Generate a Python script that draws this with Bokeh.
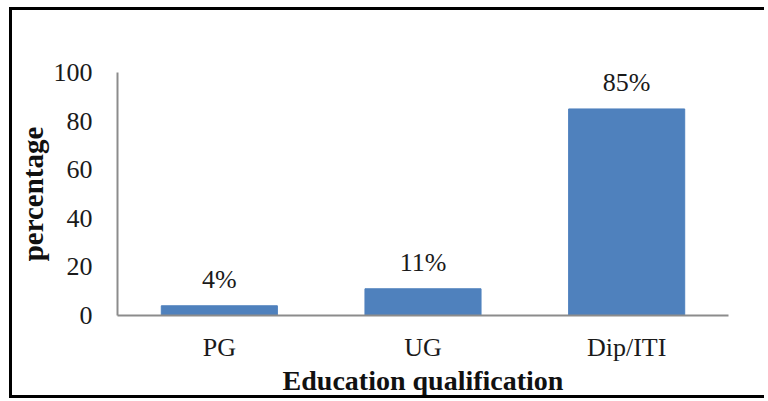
from bokeh.plotting import figure
from bokeh.models import ColumnDataSource, LabelSet, FixedTicker
from bokeh.embed import file_html
from bokeh.resources import INLINE

categories = ["PG", "UG", "Dip/ITI"]
percentages = [4, 11, 85]
labels = ["4%", "11%", "85%"]
y_ticks = [0, 20, 40, 60, 80, 100]

FONT = "Liberation Serif"

src = ColumnDataSource(data=dict(cat=categories, val=percentages, lab=labels))

p = figure(x_range=categories, y_range=(0, 100), width=755, height=391,
           output_backend="svg", toolbar_location=None,
           min_border_left=105, min_border_top=62, min_border_bottom=86,
           min_border_right=39)
p.styles = {"border-left": "3px solid black", "border-top": "3px solid black",
            "border-bottom": "3px solid black", "margin-left": "9px",
            "margin-top": "7px"}

p.vbar(x="cat", top="val", width=0.57, source=src, color="#4F81BD")

lbl = LabelSet(x="cat", y="val", text="lab", source=src, text_align="center",
               text_baseline="alphabetic", y_offset=18, text_font=FONT,
               text_font_size="26px", text_color="#1a1a1a")
p.add_layout(lbl)

p.grid.visible = False
p.outline_line_color = None

for ax in (p.xaxis, p.yaxis):
    ax.axis_line_color = "#8c8c8c"
    ax.axis_line_width = 2
    ax.major_tick_line_color = None
    ax.minor_tick_line_color = None
    ax.major_label_text_font = FONT
    ax.major_label_text_font_size = "26px"
    ax.major_label_text_color = "#1a1a1a"
    ax.axis_label_text_font = FONT
    ax.axis_label_text_font_style = "bold"
    ax.axis_label_text_color = "#111111"

p.yaxis.ticker = FixedTicker(ticks=y_ticks)
p.yaxis.major_label_standoff = 19
p.yaxis.axis_label = "percentage"
p.yaxis.axis_label_text_font_size = "29px"
p.yaxis.axis_label_standoff = 2
p.xaxis.major_label_standoff = 11
p.xaxis.axis_label = "Education qualification"
p.xaxis.axis_label_text_font_size = "28px"
p.xaxis.axis_label_standoff = 0

open("out.html", "w").write(file_html(p, INLINE))
